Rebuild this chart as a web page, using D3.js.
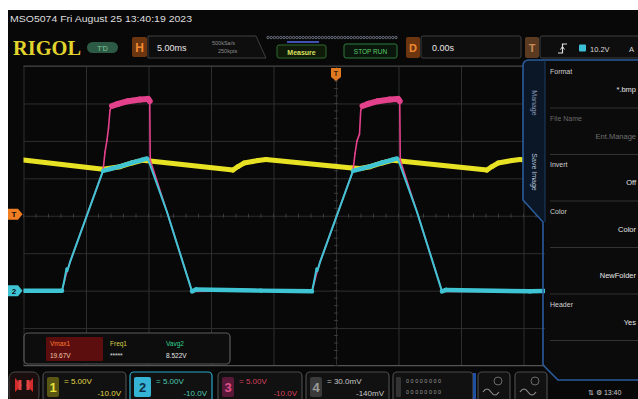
<!DOCTYPE html>
<html>
<head>
<meta charset="utf-8">
<title>MSO5074</title>
<script src="https://cdn.jsdelivr.net/npm/d3@7/dist/d3.min.js"></script>
<style>
  html, body { margin: 0; padding: 0; background: #ffffff; }
  svg { display: block; font-family: "Liberation Sans", Arial, sans-serif; }
</style>
</head>
<body>
<svg id="scope" width="638" height="399"></svg>
<script>
// ---- acquired traces: [time (ms), volts] ----
const ch1 = [
  [-25, 17.44], [-18.64, 16.2], [-17.28, 16.55], [-16.32, 17.05], [-15.52, 17.4], [-14.88, 17.32],
  [-8.24, 16.11], [-7.84, 16.57], [-7.36, 17.04], [-6.24, 17.38], [-5.6, 17.51],
  [1.28, 16.37], [1.92, 16.3], [2.72, 16.55], [3.68, 17.05], [4.48, 17.4], [5.12, 17.32],
  [12.08, 16.11], [12.48, 16.57], [12.96, 17.04], [14.08, 17.38], [14.72, 17.51],
  [21.28, 16.37], [25, 17.32]
];
const ch2 = [
  [-25, 0], [-21.92, 0], [-21.76, 1.15], [-21.6, 2.6], [-21.56, 2.95], [-21.5, 2.6], [-21.28, 3.8],
  [-18.64, 16.0], [-18.08, 16.24], [-17.28, 16.6], [-16.32, 17.1], [-15.52, 17.45], [-15.12, 17.65],
  [-14.96, 17.2], [-13.52, 10.5], [-11.52, -0.1], [-11.2, 0.15], [-6.0, 0.0], [-1.92, -0.1],
  [-1.76, 1.15], [-1.6, 2.6], [-1.56, 2.95], [-1.5, 2.6], [-1.28, 3.8],
  [1.36, 16.0], [1.92, 16.24], [2.72, 16.6], [3.68, 17.1], [4.48, 17.45], [4.88, 17.65],
  [5.04, 17.2], [6.48, 10.5], [8.48, -0.1], [8.8, 0.1], [15.52, -0.1], [18.08, 0],
  [18.24, 1.15], [18.4, 2.6], [18.72, 3.8], [21.36, 16.0], [21.92, 16.24], [22.72, 16.6],
  [23.68, 17.1], [24.48, 17.45], [25, 17.6]
];
const ch3 = [
  [-25, 0], [-21.92, 0], [-21.52, 2.6], [-21.28, 3.8], [-18.64, 16.0],
  [-18.48, 18.5], [-18.32, 20.1], [-18.2, 21.7], [-18.08, 24.1], [-17.92, 24.66],
  [-17.44, 24.93], [-16.64, 25.3], [-15.68, 25.52], [-15.04, 25.6], [-14.9, 25.3],
  [-14.86, 17.4], [-13.52, 10.5], [-11.52, -0.1], [-6, 0], [-1.92, -0.1],
  [-1.5, 2.6], [-1.28, 3.8], [1.36, 16.0], [1.52, 18.3], [1.68, 20.0], [1.88, 20.9],
  [1.98, 24.1], [2.12, 24.66], [2.56, 24.93], [3.36, 25.3], [4.32, 25.52], [4.96, 25.6],
  [5.1, 25.3], [5.14, 17.4], [6.48, 10.5], [8.48, -0.1], [15.52, -0.1], [18.08, 0],
  [18.48, 2.6], [18.72, 3.8], [21.36, 16.0], [21.52, 18.3], [21.68, 20.0], [21.88, 20.9],
  [21.98, 24.1], [22.12, 24.66], [22.56, 24.93], [23.36, 25.3], [24.32, 25.52], [25, 25.6]
];

// graticule: 10 x 8 divisions, 5 ms/div, 5 V/div with -10 V offset
const timeTicks = d3.range(-25, 25.001, 5);
const voltTicks = d3.range(-10, 30.001, 5);
const triggerLevel = 10.2;

// readouts
const chNames = ["1", "2", "3", "4"];
const chScales = ["= 5.00V", "= 5.00V", "= 5.00V", "= 30.0mV"];
const chOffsets = ["-10.0V", "-10.0V", "-10.0V", "-140mV"];
const measNames = ["Vmax1", "Freq1", "Vavg2"];
const measValues = ["19.67V", "*****", "8.522V"];
const menuLabels = ["Format", "File Name", "Invert", "Color", "", "Header"];
const menuValues = ["*.bmp", "Ent.Manage", "Off", "Color", "NewFolder", "Yes"];

const svg = d3.select("#scope");
const x = d3.scaleLinear().domain([-25, 25]).range([23.5, 648.5]);
const y = d3.scaleLinear().domain([-10, 30]).range([365.5, 66]);

function txt(g, s, px, py, size, fill, opts = {}) {
  const t = g.append("text").text(s).attr("x", px).attr("y", py)
    .attr("font-size", size).attr("fill", fill);
  if (opts.anchor) t.attr("text-anchor", opts.anchor);
  if (opts.weight) t.attr("font-weight", opts.weight);
  if (opts.family) t.attr("font-family", opts.family);
  if (opts.len) t.attr("textLength", opts.len).attr("lengthAdjust", "spacingAndGlyphs");
  return t;
}
function box(g, bx, by, w, h, fill, stroke, r = 2, sw = 1) {
  return g.append("rect").attr("x", bx).attr("y", by).attr("width", w).attr("height", h)
    .attr("rx", r).attr("fill", fill).attr("stroke", stroke || "none").attr("stroke-width", sw);
}

// screen
svg.append("rect").attr("x", 8).attr("y", 10).attr("width", 630).attr("height", 389).attr("fill", "#080808");

// ---- title line ----
txt(svg, "MSO5074  Fri August 25 13:40:19 2023", 10, 22, 8.5, "#dedede", { len: 182 });

// ---- top status bar ----
const bar = svg.append("g");
txt(bar, "RIGOL", 13, 55, 20, "#e2d42c", { weight: "bold", family: "Liberation Serif, DejaVu Serif, serif", len: 68 });
box(bar, 87, 42, 31, 11, "#2c5a44", null, 5.5);
txt(bar, "T'D", 102.5, 50.5, 7, "#86c8a0", { anchor: "middle" });
box(bar, 132, 37, 15, 20, "#6b3510", null, 2);
txt(bar, "H", 139.5, 52, 12, "#f08a32", { anchor: "middle", weight: "bold" });
bar.append("path").attr("d", "M148,36 H256 L266,58 H148 Z").attr("fill", "#0e0e0e").attr("stroke", "#3e3e3e");
txt(bar, "5.00ms", 157, 51, 9, "#e8e8e8");
txt(bar, "500kSa/s", 212, 44.5, 5.5, "#8c8c8c");
txt(bar, "250kpts", 218, 53, 5.5, "#8c8c8c");
// memory overview strip
bar.selectAll("circle.mem").data(d3.range(268, 398, 3.2)).join("circle")
  .attr("cx", d => d).attr("cy", 37.5).attr("r", 1.2)
  .attr("fill", "none").attr("stroke", "#8a93a8").attr("stroke-width", 0.7);
box(bar, 287, 41, 32, 2, "#4050b0", null, 0);
box(bar, 277, 45, 49, 13, "#101a08", "#2f6a2f", 2);
txt(bar, "Measure", 301.5, 54.5, 7, "#d8e060", { anchor: "middle", weight: "bold" });
box(bar, 344, 44, 53, 14, "#0a160c", "#2c7a3a", 2);
txt(bar, "STOP RUN", 370.5, 53.5, 6.5, "#5acc6a", { anchor: "middle" });
box(bar, 406, 37, 14, 21, "#6b3510", null, 2);
txt(bar, "D", 413, 52, 11, "#f08a32", { anchor: "middle", weight: "bold" });
box(bar, 421, 36, 100, 22, "#0e0e0e", "#3e3e3e", 2);
txt(bar, "0.00s", 432, 51, 9, "#e8e8e8");
box(bar, 525, 37, 14, 21, "#5a3a20", null, 2);
txt(bar, "T", 532, 52, 11, "#c88a5a", { anchor: "middle", weight: "bold" });
box(bar, 540, 36, 110, 22, "#0e0e0e", "#3e3e3e", 2);
bar.append("path").attr("d", "M558,53 H562.5 V44 H567").attr("fill", "none").attr("stroke", "#e0e0e0").attr("stroke-width", 1.2);
bar.append("path").attr("d", "M560.5,49.5 L562.5,46.5 L564.5,49.5").attr("fill", "none").attr("stroke", "#e0e0e0").attr("stroke-width", 1);
box(bar, 579, 44.5, 7, 7, "#3cc0d8", null, 1);
txt(bar, "10.2V", 590, 51.5, 7.5, "#d8d8d8");
txt(bar, "A", 629, 51.5, 7.5, "#d8d8d8");

// ---- graticule ----
const plot = svg.append("g");
plot.append("g").attr("transform", `translate(0,${y(30)})`)
  .call(d3.axisTop(x).tickValues(timeTicks).tickSize(-(y(-10) - y(30))).tickFormat(""))
  .call(g => g.select(".domain").remove())
  .call(g => g.selectAll("line").attr("stroke", "#2e2e2e"));
plot.append("g").attr("transform", `translate(${x(-25)},0)`)
  .call(d3.axisLeft(y).tickValues(voltTicks).tickSize(-(x(25) - x(-25))).tickFormat(""))
  .call(g => g.select(".domain").remove())
  .call(g => g.selectAll("line").attr("stroke", "#2e2e2e"));
plot.append("line").attr("x1", x(-25)).attr("x2", x(25)).attr("y1", y(30)).attr("y2", y(30)).attr("stroke", "#444");
plot.append("line").attr("x1", x(-25)).attr("x2", x(25)).attr("y1", y(-10)).attr("y2", y(-10)).attr("stroke", "#555");
// minor ticks on the centre lines
plot.selectAll("line.mx").data(d3.range(-25, 25, 1)).join("line")
  .attr("x1", d => x(d)).attr("x2", d => x(d)).attr("y1", y(10) - 2).attr("y2", y(10) + 2).attr("stroke", "#3a3a3a");
plot.selectAll("line.my").data(d3.range(-10, 30, 1)).join("line")
  .attr("y1", d => y(d)).attr("y2", d => y(d)).attr("x1", x(0) - 2).attr("x2", x(0) + 2).attr("stroke", "#3a3a3a");

svg.append("clipPath").attr("id", "gridClip").append("rect")
  .attr("x", x(-25)).attr("y", y(30)).attr("width", x(25) - x(-25)).attr("height", y(-10) - y(30));

// traces: slow portions glow wider than fast edges
function drawTrace(data, color, wide, thin, bandMin) {
  const g = plot.append("g").attr("clip-path", "url(#gridClip)");
  const segs = d3.pairs(data);
  g.selectAll("line").data(segs).join("line")
    .attr("x1", d => x(d[0][0])).attr("y1", d => y(d[0][1]))
    .attr("x2", d => x(d[1][0])).attr("y2", d => y(d[1][1]))
    .attr("stroke", color).attr("stroke-linecap", "round")
    .attr("stroke-width", d => {
      const dx = Math.abs(x(d[1][0]) - x(d[0][0])), dy = Math.abs(y(d[1][1]) - y(d[0][1]));
      const steep = dy > 1.6 * dx;
      const inBand = bandMin == null || Math.min(d[0][1], d[1][1]) >= bandMin;
      return (!steep && inBand) ? wide : thin;
    });
}
drawTrace(ch1, "#e8e224", 5, 3, null);
drawTrace(ch3, "#e4418c", 6, 1.6, 24);
drawTrace(ch2, "#3fc4d4", 4.5, 2, null);

// channel / trigger markers
function marker(yc, fill, label) {
  plot.append("path").attr("d", `M8,${yc - 5.5} H18 L22.5,${yc} L18,${yc + 5.5} H8 Z`).attr("fill", fill);
  txt(plot, label, 14, yc + 3, 8, "#101010", { anchor: "middle", weight: "bold" });
}
marker(y(triggerLevel), "#f07e22", "T");
marker(y(0), "#3fc4d4", "2");
plot.append("path").attr("d", `M${x(0) - 5},68 H${x(0) + 5} V77 L${x(0)},81 L${x(0) - 5},77 Z`).attr("fill", "#e07a22");
txt(plot, "T", x(0), 76, 7, "#3a1a00", { anchor: "middle", weight: "bold" });

// ---- measurement readout ----
const meas = svg.append("g");
box(meas, 24, 333, 206, 31, "#0d0d0d", "#5a5a5a", 4, 1.2);
box(meas, 46, 337, 57, 24, "#5c0e0e", null, 1);
const measColors = ["#ff7a30", "#d8d048", "#2ed090"];
const measValColors = ["#f0c8a8", "#e0e0e0", "#e6e6e6"];
const measX = [50, 110, 166];
measNames.forEach((n, i) => {
  txt(meas, n, measX[i], 346, 6.5, measColors[i]);
  txt(meas, measValues[i], measX[i], 358, 6.5, measValColors[i]);
});

// ---- side menu ----
const menu = svg.append("g");
menu.append("rect").attr("x", 545).attr("y", 60).attr("width", 93).attr("height", 320).attr("fill", "#0b0b0b");
menu.append("path").attr("d", "M523,66 Q523,60 529,60 H545 V222 L523,200 Z").attr("fill", "#0b1627");
menu.append("path").attr("d", "M638,60 H529 Q523,60 523,66 V200 L543,222 V365 L558,380 H638")
  .attr("fill", "none").attr("stroke", "#2a5c9c").attr("stroke-width", 1.6);
menu.append("line").attr("x1", 545).attr("x2", 545).attr("y1", 60).attr("y2", 222).attr("stroke", "#1d3d66");
txt(menu, "Manage", 0, 0, 7, "#8a9ab8", { anchor: "middle" }).attr("transform", "translate(532,103) rotate(90)");
txt(menu, "Save Image", 0, 0, 7, "#b4c4dc", { anchor: "middle" }).attr("transform", "translate(532,172) rotate(90)");
menuLabels.forEach((l, i) => {
  const top = 62 + i * 46.5;
  const dim = i === 1;
  txt(menu, l, 550, top + 12, 7, dim ? "#6a6a6a" : "#d0d0d0");
  txt(menu, menuValues[i], 636, top + 30, 7.5, dim ? "#707070" : "#e6e6e6", { anchor: "end" });
  menu.append("line").attr("x1", 550).attr("x2", 638).attr("y1", top + 46).attr("y2", top + 46).attr("stroke", "#333");
});

// ---- bottom channel bar ----
const bot = svg.append("g");
box(bot, 9, 372, 30, 30, "#1a0e0e", "#4a4a4a", 6);
bot.append("path").attr("d", "M15,378 L22,385 L15,392 Z M33,378 L26,385 L33,392 Z").attr("fill", "#d42a2a");
bot.append("path").attr("d", "M20,380 V390 M28,380 V390").attr("stroke", "#e04444").attr("stroke-width", 3);

const chColors = ["#e0d84a", "#4cc8b0", "#d8405c", "#c8c8c8"];
const tagFill = ["#5a5614", "#36b4d6", "#5a1838", "#3a3a3a"];
const tagText = ["#e6e23a", "#10304a", "#e0508a", "#9a9a9a"];
const boxX = [43, 130, 218, 306];
const boxW = [83, 82, 84, 83];
chNames.forEach((n, i) => {
  box(bot, boxX[i], 372, boxW[i], 30, "#111111", i === 1 ? "#2aa8c8" : "#4a4a4a", 4, 1.2);
  const tw = i === 1 ? 17 : 12;
  box(bot, boxX[i] + 4, 377, tw, 20, tagFill[i], null, 2);
  txt(bot, n, boxX[i] + 4 + tw / 2, 392, 13, tagText[i], { anchor: "middle", weight: "bold" });
  txt(bot, chScales[i], boxX[i] + tw + 9, 384, 8, chColors[i]);
  txt(bot, chOffsets[i], boxX[i] + boxW[i] - 5, 396, 8, chColors[i], { anchor: "end" });
});
// logic channels
box(bot, 393, 372, 80, 30, "#111111", "#4a4a4a", 4, 1.2);
box(bot, 396, 377, 5, 20, "#333", null, 1);
txt(bot, "0 0 0 0 0 0 0 0", 406, 383, 5.5, "#9a9a9a");
txt(bot, "0 0 0 0 0 0 0 0", 406, 394, 5.5, "#9a9a9a");
box(bot, 473, 373, 3, 26, "#2050a0", null, 0);
// signal generators
[478, 515].forEach(gx => {
  box(bot, gx, 372, 32, 30, "#111111", "#4a4a4a", 4, 1.2);
  bot.append("circle").attr("cx", gx + 20).attr("cy", 381).attr("r", 4).attr("fill", "none").attr("stroke", "#6a6a6a");
  bot.append("path").attr("d", `M${gx + 5},392 q4,-6 8,0 t8,0`).attr("fill", "none").attr("stroke", "#8a8a8a").attr("stroke-width", 1.2);
});
txt(bot, "\u21C5  \u2699  13:40", 588, 395, 7, "#cfcfcf");
</script>
</body>
</html>
